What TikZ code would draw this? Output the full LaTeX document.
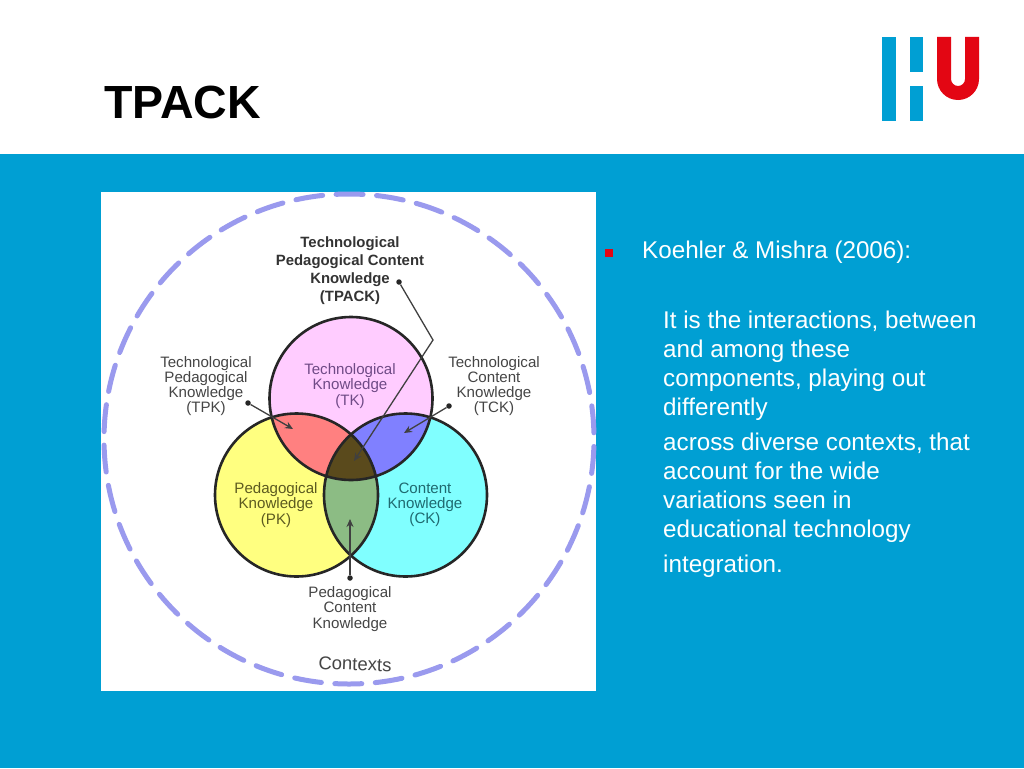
\documentclass[tikz,border=0pt]{standalone}
\usepackage{fontspec}
\setmainfont{Liberation Sans}
\usetikzlibrary{arrows.meta}
\definecolor{hublue}{HTML}{009FD3}
\definecolor{hured}{HTML}{E30613}
\definecolor{ctxdash}{HTML}{9A9AEE}
\definecolor{tkfill}{HTML}{FFCCFF}
\definecolor{pkfill}{HTML}{FFFF80}
\definecolor{ckfill}{HTML}{80FFFF}
\definecolor{tpfill}{HTML}{FF8080}
\definecolor{tcfill}{HTML}{8080FF}
\definecolor{pcfill}{HTML}{8CBC84}
\definecolor{allfill}{HTML}{5A4A1C}
\definecolor{labelgrey}{HTML}{454545}
\definecolor{tktext}{HTML}{6F4A86}
\definecolor{pktext}{HTML}{5C5A20}
\definecolor{cktext}{HTML}{1F6A70}
\tikzset{
  venn/.style={circle,inner sep=0pt,minimum size=163pt},
  vennline/.style={draw=black!85,line width=2.6pt},
  lab/.style={align=center,inner sep=0pt,text=labelgrey,font=\fontsize{15.1}{15.2}\selectfont},
  boldlab/.style={align=center,inner sep=0pt,text=black!80,font=\fontsize{14.9}{18}\selectfont\bfseries},
  dotnode/.style={circle,fill=black!85,inner sep=0pt,minimum size=5.5pt},
  pointer/.style={draw=black!75,line width=1.3pt,-{Stealth[length=8pt,width=7pt]}},
  bodytext/.style={align=left,anchor=west,inner sep=0pt,text=white,font=\fontsize{24.2}{29}\selectfont},
}
\begin{document}
\begin{tikzpicture}[x=1pt,y=-1pt]
\useasboundingbox (0,0) rectangle (1024,768);
\fill[white] (0,0) rectangle (1024,768);
\fill[hublue] (0,154) rectangle (1024,768);
% logo
\fill[hublue] (882,37) rectangle (896,121);
\fill[hublue] (910,37) rectangle (923,72);
\fill[hublue] (910,86) rectangle (923,121);
\fill[hured] (937,37) -- (951,37) -- (951,79) arc[start angle=180,end angle=360,x radius=7pt,y radius=7pt] -- (965,37) -- (979,37) -- (979,79) arc[start angle=0,end angle=-180,x radius=21pt,y radius=21pt] -- cycle;
\node[anchor=base west,inner sep=0pt,font=\fontsize{46.5}{46.5}\selectfont\bfseries] (title) at (104,118) {TPACK};
% picture panel
\fill[white] (101,192) rectangle (596,691);
\draw[ctxdash,line width=5pt,line cap=round,dash pattern=on 27pt off 13.51pt,dash phase=34.3pt] (349,439) circle[radius=245pt];
% venn
\node[venn,fill=pkfill] (pk) at (296.5,495) {};
\node[venn,fill=ckfill] (ck) at (405.5,495) {};
\begin{scope}
  \clip (296.5,495) circle[radius=81.5pt];
  \fill[pcfill] (405.5,495) circle[radius=81.5pt];
\end{scope}
\node[venn,fill=tkfill] (tk) at (351,398.5) {};
\begin{scope}
  \clip (351,398.5) circle[radius=81.5pt];
  \fill[tpfill] (296.5,495) circle[radius=81.5pt];
  \fill[tcfill] (405.5,495) circle[radius=81.5pt];
  \clip (296.5,495) circle[radius=81.5pt];
  \fill[allfill] (405.5,495) circle[radius=81.5pt];
\end{scope}
\node[venn,vennline] at (tk) {};
\node[venn,vennline] at (pk) {};
\node[venn,vennline] at (ck) {};
% labels
\node[boldlab] (tpack) at (350,270.5) {Technological\\Pedagogical Content\\Knowledge\\(TPACK)};
\node[lab] (tpk) at (206,386) {Technological\\Pedagogical\\Knowledge\\(TPK)};
\node[lab] (tck) at (494,386) {Technological\\Content\\Knowledge\\(TCK)};
\node[lab,text=tktext] (tklab) at (350,386) {Technological\\Knowledge\\(TK)};
\node[lab,text=pktext] (pklab) at (276,505) {Pedagogical\\Knowledge\\(PK)};
\node[lab,text=cktext] (cklab) at (425,505) {Content\\Knowledge\\(CK)};
\node[lab] (pcklab) at (350,609) {Pedagogical\\Content\\Knowledge};
\node[inner sep=0pt,text=labelgrey,rotate=-2,font=\fontsize{18.5}{20}\selectfont] (ctx) at (355,664) {Contexts};
% connectors
\node[dotnode] (dtpack) at (399,282) {};
\coordinate (bend) at (433,340);
\coordinate (tpackend) at (354,461);
\node[dotnode] (dtpk) at (248,403) {};
\coordinate (tpkend) at (293,429);
\node[dotnode] (dtck) at (449,406) {};
\coordinate (tckend) at (404,433);
\node[dotnode] (dpck) at (350,578) {};
\coordinate (pckend) at (350,519);
\draw[pointer] (dtpack) -- (bend) -- (tpackend);
\draw[pointer] (dtpk) -- (tpkend);
\draw[pointer] (dtck) -- (tckend);
\draw[pointer] (dpck) -- (pckend);
% right text
\fill[hured] (604.5,248.5) rectangle (612.5,256.5);
\node[bodytext] (koehler) at (642,252) {Koehler \& Mishra (2006):};
\node[bodytext] (para1) at (663,365.5) {It is the interactions, between\\and among these\\components, playing out\\differently};
\node[bodytext] (para2) at (663,487.5) {across diverse contexts, that\\account for the wide\\variations seen in\\educational technology};
\node[bodytext] (para3) at (663,566) {integration.};
\end{tikzpicture}
\end{document}
